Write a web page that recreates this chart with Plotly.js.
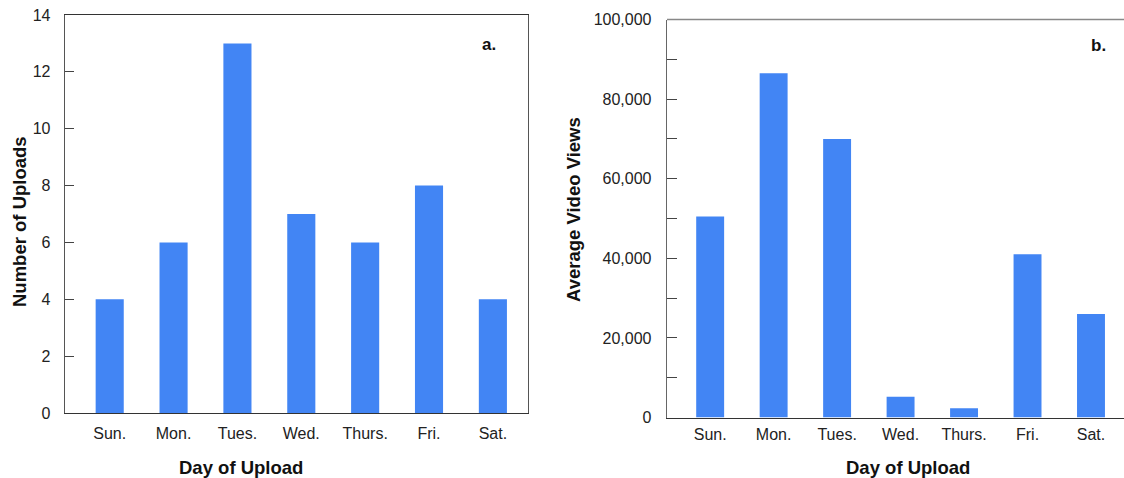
<!DOCTYPE html>
<html>
<head>
<meta charset="utf-8">
<script src="https://cdn.plot.ly/plotly-3.0.1.min.js"></script>
<style>html,body{margin:0;padding:0;background:#fff;}#chart{width:1124px;height:478px;}</style>
</head>
<body>
<div id="chart"></div>
<script>
const days = ["Sun.", "Mon.", "Tues.", "Wed.", "Thurs.", "Fri.", "Sat."];
const uploads = [4, 6, 13, 7, 6, 8, 4];
const avgViews = [50500, 86500, 70000, 5200, 2300, 41000, 26000];
const uploadTicks = [0, 2, 4, 6, 8, 10, 12, 14];
const viewTicks = [0, 10000, 20000, 30000, 40000, 50000, 60000, 70000, 80000, 90000, 100000];
const viewTickLabels = ["0", "", "20,000", "", "40,000", "", "60,000", "", "80,000", "", "100,000"];

const W = 1124, H = 478;
const blue = "#4285F4";
const tickFont = {family: "Liberation Sans, Arial, sans-serif", size: 16, color: "#222"};
const titleFont = {family: "Liberation Sans, Arial, sans-serif", size: 18.5, color: "#111", weight: "bold"};

const traces = [
  {type: "bar", x: days, y: uploads, xaxis: "x", yaxis: "y", marker: {color: blue}, width: 0.44, hoverinfo: "x+y"},
  {type: "bar", x: days, y: avgViews, xaxis: "x2", yaxis: "y2", marker: {color: blue}, width: 0.44, hoverinfo: "x+y"}
];

const layout = {
  width: W, height: H,
  margin: {l: 0, r: 0, t: 0, b: 0},
  paper_bgcolor: "#fff", plot_bgcolor: "#fff",
  showlegend: false,
  xaxis: {
    domain: [65 / W, 528 / W], range: [-0.70, 6.55], type: "category",
    showline: true, linecolor: "#333", linewidth: 1.3, mirror: true,
    ticks: "", showgrid: false, tickfont: tickFont, ticklabelstandoff: 5
  },
  yaxis: {
    domain: [65 / H, 463 / H], range: [0, 14],
    tickvals: uploadTicks, ticktext: uploadTicks.map(String),
    showline: true, linecolor: "#555", linewidth: 1.3, mirror: true,
    ticks: "inside", ticklen: 9, tickcolor: "#444", tickwidth: 1,
    showgrid: false, zeroline: false, tickfont: tickFont, ticklabelstandoff: 10
  },
  xaxis2: {
    domain: [667 / W, 1], range: [-0.68, 6.52], type: "category", anchor: "y2",
    showline: true, linecolor: "#333", linewidth: 1.3, mirror: false,
    ticks: "", showgrid: false, tickfont: tickFont, ticklabelstandoff: 2
  },
  yaxis2: {
    domain: [60.5 / H, 458.5 / H], range: [0, 100000], anchor: "x2",
    tickvals: viewTicks, ticktext: viewTickLabels,
    showline: true, linecolor: "#666", linewidth: 1.3, mirror: false,
    ticks: "inside", ticklen: 10, tickcolor: "#444", tickwidth: 1,
    showgrid: false, zeroline: false, tickfont: tickFont, ticklabelstandoff: 11
  },
  shapes: [
    {type: "line", xref: "paper", yref: "paper", x0: 667 / W, x1: 1, y0: 458.5 / H, y1: 458.5 / H, line: {color: "#888", width: 1.5}}
  ],
  annotations: [
    {text: "Day of Upload", xref: "paper", yref: "paper", x: 241 / W, y: 1 - 467 / H, xanchor: "center", yanchor: "middle", showarrow: false, font: titleFont},
    {text: "Day of Upload", xref: "paper", yref: "paper", x: 908 / W, y: 1 - 467 / H, xanchor: "center", yanchor: "middle", showarrow: false, font: titleFont},
    {text: "Number of Uploads", xref: "paper", yref: "paper", x: 20 / W, y: 1 - 222 / H, xanchor: "center", yanchor: "middle", textangle: -90, showarrow: false, font: titleFont},
    {text: "Average Video Views", xref: "paper", yref: "paper", x: 573 / W, y: 1 - 210 / H, xanchor: "center", yanchor: "middle", textangle: -90, showarrow: false, font: titleFont},
    {text: "a.", xref: "paper", yref: "paper", x: 489 / W, y: 1 - 44 / H, xanchor: "center", yanchor: "middle", showarrow: false, font: {family: "Liberation Sans, Arial, sans-serif", size: 17, color: "#111", weight: "bold"}},
    {text: "b.", xref: "paper", yref: "paper", x: 1098 / W, y: 1 - 46 / H, xanchor: "center", yanchor: "middle", showarrow: false, font: {family: "Liberation Sans, Arial, sans-serif", size: 17, color: "#111", weight: "bold"}}
  ]
};

Plotly.newPlot("chart", traces, layout, {staticPlot: true, displayModeBar: false});
</script>
</body>
</html>
